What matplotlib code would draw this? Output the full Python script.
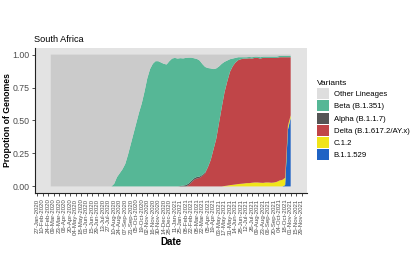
import numpy as np
import pandas as pd
import matplotlib.pyplot as plt
import matplotlib.dates as mdates
from matplotlib.patches import Patch

plt.rcParams["font.family"] = ["Liberation Sans", "DejaVu Sans"]

# weekly sample dates (first week of Mar-2020 to start of Nov-2021)
weeks = pd.date_range("2020-03-02", "2021-11-01", freq="7D")

# proportions per week
beta = ([0.0] * 23 +
        [0.02, 0.07, 0.10, 0.13, 0.17, 0.24, 0.32, 0.40, 0.48, 0.56, 0.63, 0.72,
         0.82, 0.89, 0.93, 0.95, 0.95, 0.94, 0.93, 0.925, 0.95, 0.97, 0.975,
         0.97, 0.97, 0.965, 0.965, 0.955, 0.935, 0.91, 0.895, 0.88, 0.84, 0.80,
         0.75, 0.695, 0.61, 0.535, 0.43, 0.33, 0.232, 0.159, 0.095, 0.058,
         0.035, 0.022, 0.015] + [0.01] * 18)
alpha = ([0.0] * 47 +
         [0.003, 0.006, 0.01, 0.012, 0.012, 0.012, 0.012, 0.01, 0.008, 0.006, 0.003]
         + [0.0] * 30)
delta = ([0.0] * 50 +
         [0.01, 0.03, 0.05, 0.06, 0.065, 0.08, 0.10, 0.145, 0.20, 0.28, 0.36,
          0.48, 0.60, 0.71, 0.79, 0.86, 0.90, 0.925, 0.94, 0.945, 0.948, 0.945,
          0.947, 0.942, 0.945, 0.945, 0.942, 0.948, 0.945, 0.945, 0.947, 0.945,
          0.94, 0.935, 0.93, 0.915, 0.52, 0.44])
c12 = ([0.0] * 63 +
       [0.003, 0.006, 0.01, 0.012, 0.015, 0.018, 0.02, 0.022, 0.025, 0.025,
        0.028, 0.03, 0.03, 0.028, 0.027, 0.03, 0.03, 0.028, 0.03, 0.035, 0.045,
        0.05, 0.055, 0.03, 0.02])
omicron = [0.0] * 85 + [0.01, 0.43, 0.52]

labels = ["Other Lineages", "Beta (B.1.351)", "Alpha (B.1.1.7)",
          "Delta (B.1.617.2/AY.x)", "C.1.2", "B.1.1.529"]
colors = ["#cbcbcb", "#56b796", "#555555", "#c04548", "#f0e41a", "#1f63c4"]
key_colors = ["#dedede"] + colors[1:]

tick_dates = pd.date_range("2020-01-27", "2021-11-29", freq="14D")

series = np.array([omicron, c12, delta, alpha, beta])
other = 1 - series.sum(axis=0)

fig = plt.figure(figsize=(4.2, 2.8), dpi=100)
ax = fig.add_axes([35 / 420, 87 / 280, 272 / 420, 145 / 280])
ax.set_facecolor("#e3e3e3")

ax.stackplot(weeks, omicron, c12, delta, alpha, beta, other,
             colors=colors[::-1], linewidth=0)

x0 = mdates.date2num(pd.Timestamp("2020-01-27"))
x1 = mdates.date2num(pd.Timestamp("2021-11-29"))
pxd = (301.7 - 37) / (x1 - x0)
ax.set_xlim(x0 - 2 / pxd, x1 + 5.3 / pxd)
ax.set_ylim(-0.05, 1.05)

ax.set_xticks(mdates.date2num(tick_dates))
ax.set_xticklabels([d.strftime("%d-%b-%Y") for d in tick_dates],
                   rotation=90, fontsize=4.4, color="#4d4d4d")
ax.set_yticks([0, 0.25, 0.5, 0.75, 1.0])
ax.set_yticklabels(["0.00", "0.25", "0.50", "0.75", "1.00"],
                   fontsize=6.3, color="#4d4d4d")
ax.tick_params(length=2.5, width=0.6, color="#333333", pad=1.5)
for s in ["top", "right"]:
    ax.spines[s].set_visible(False)
for s in ["left", "bottom"]:
    ax.spines[s].set_linewidth(0.8)
    ax.spines[s].set_color("#222222")

ax.set_title("South Africa", loc="left", fontsize=6.6, pad=4, x=-0.005)
ax.set_ylabel("Propotion of Genomes", fontsize=6.2, fontweight="bold")
ax.yaxis.set_label_coords((12 - 35) / 272, 0.5)
ax.set_xlabel("Date", fontsize=7, fontweight="bold", labelpad=2)

handles = [Patch(facecolor=c, edgecolor="none") for c in key_colors]
fig.legend(handles, labels, title="Variants", loc="upper left",
           bbox_to_anchor=(317 / 420, 1 - 80 / 280), frameon=False,
           fontsize=5.6, title_fontsize=6.0, handlelength=1.54,
           handleheight=1.79, labelspacing=0.16, handletextpad=0.6,
           borderpad=0, borderaxespad=0, alignment="left")

fig.savefig("out.png", dpi=100, facecolor="white")
